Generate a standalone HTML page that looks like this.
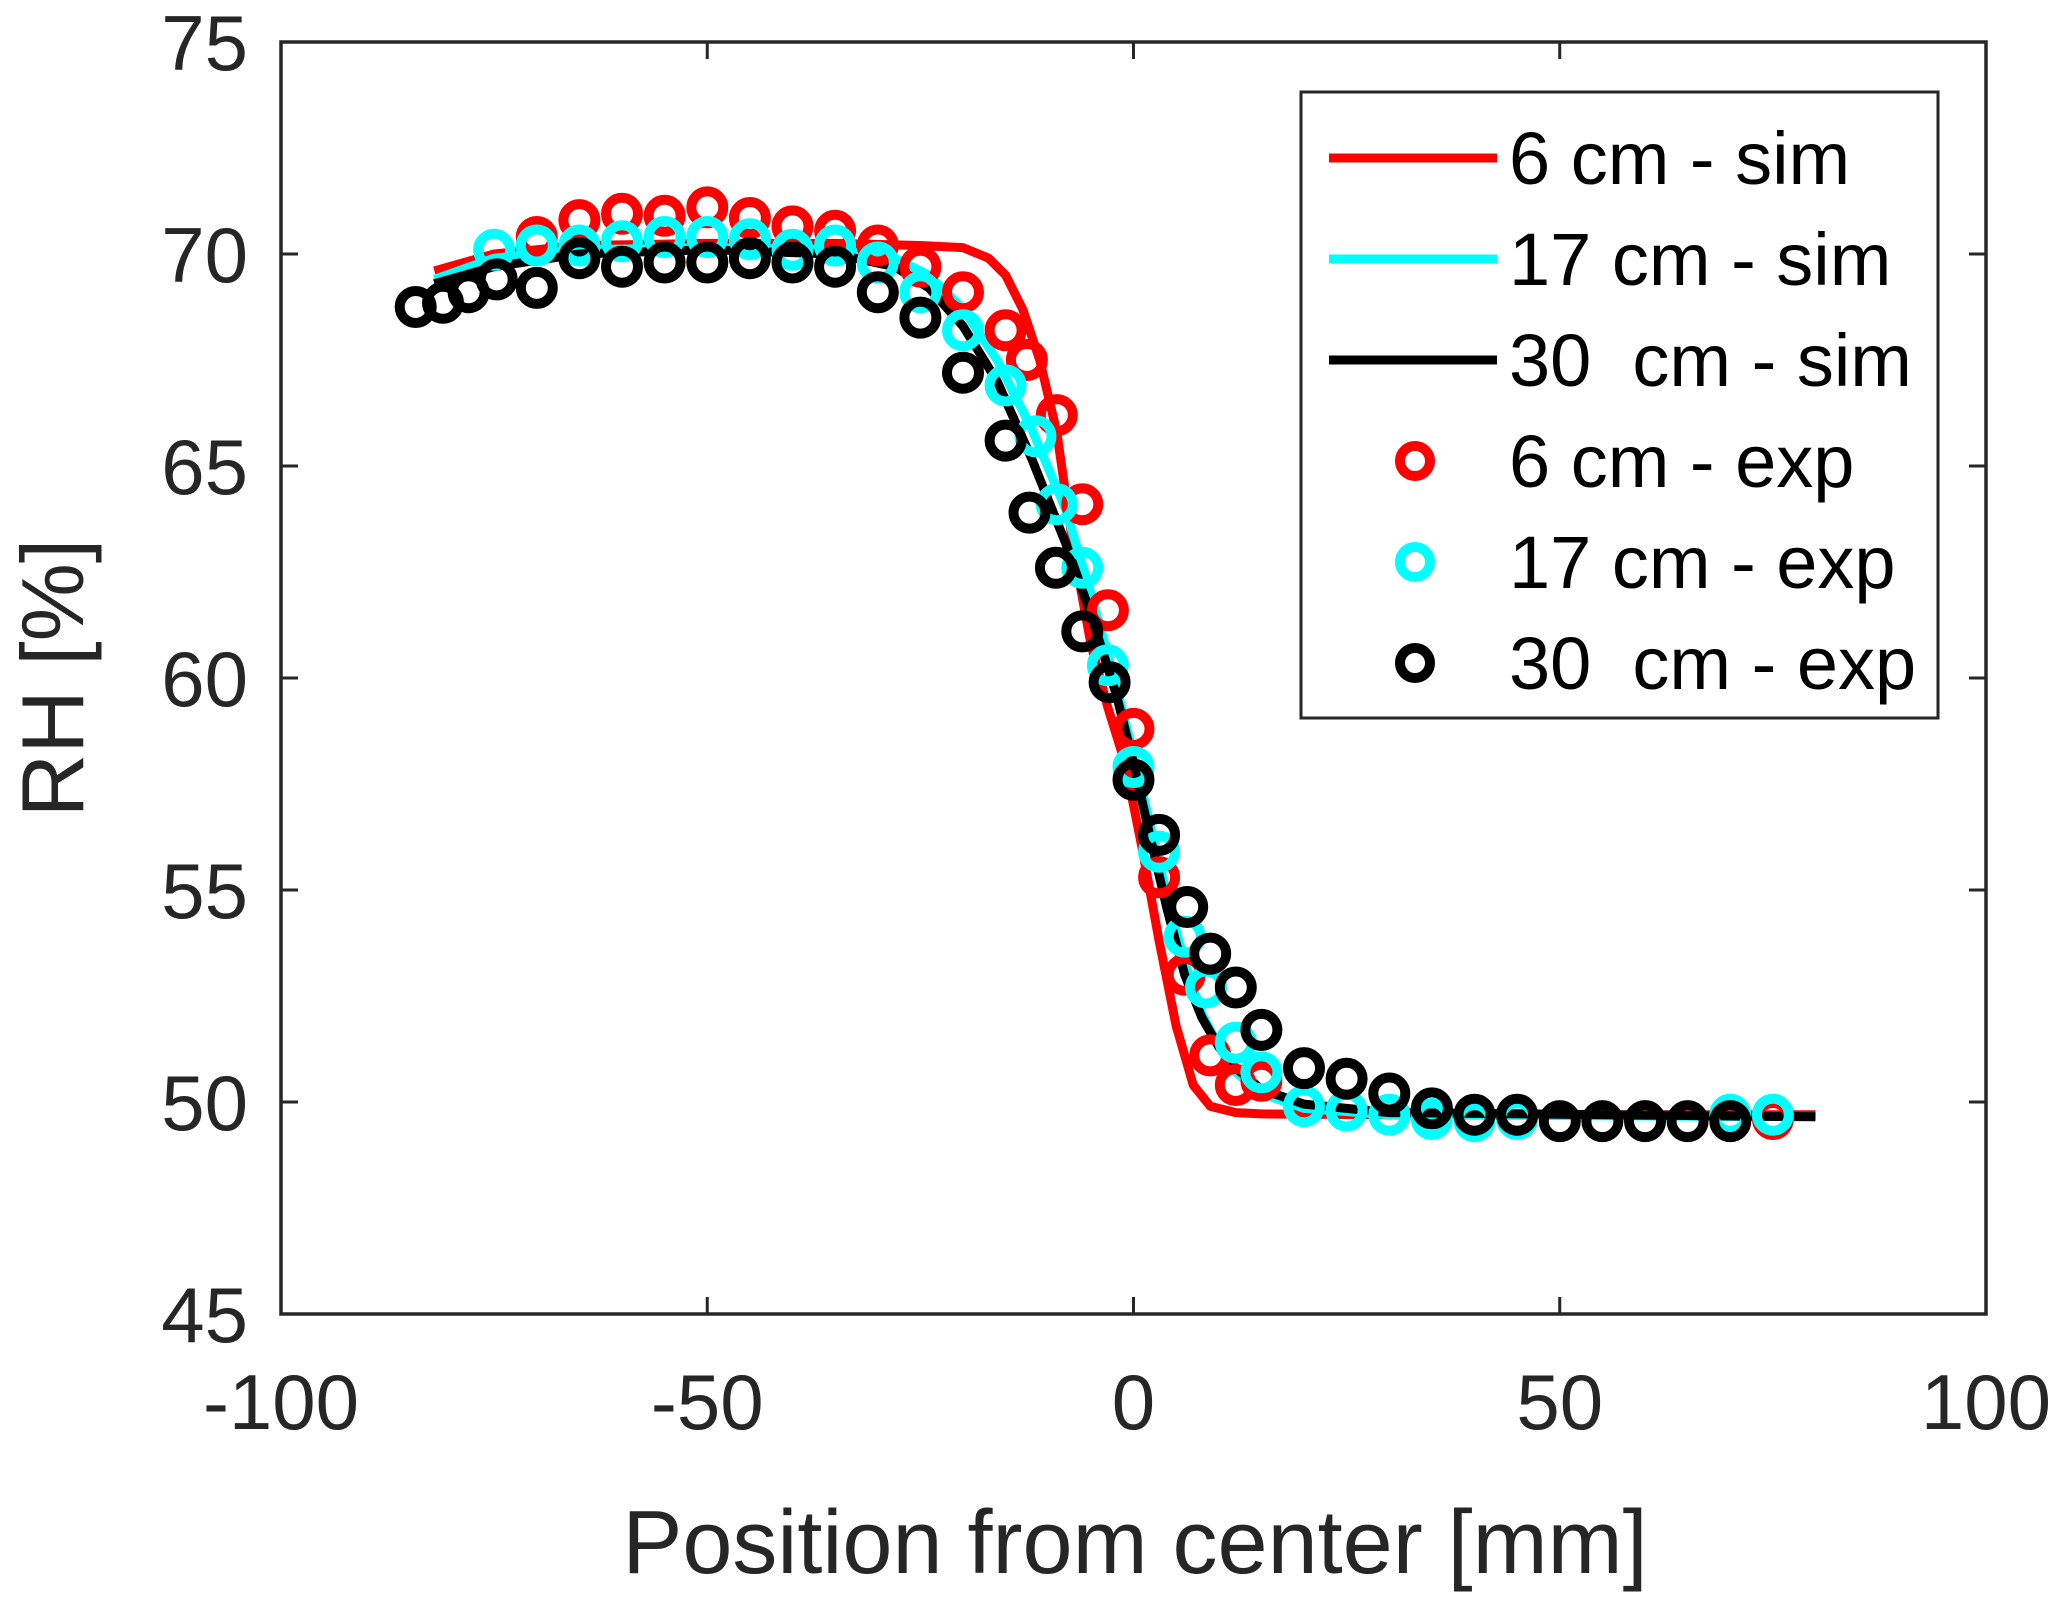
<!DOCTYPE html>
<html><head><meta charset="utf-8"><style>
html,body{margin:0;padding:0;background:#fff;}
svg{display:block;font-family:"Liberation Sans",Arial,sans-serif;}
</style></head><body>
<svg id="chart" width="2067" height="1610" viewBox="0 0 2067 1610" xmlns="http://www.w3.org/2000/svg">
<rect x="0" y="0" width="2067" height="1610" fill="#fff"/>
<g id="ticks"></g>
<g id="series"></g>
<rect x="281" y="42" width="1705" height="1272" fill="none" stroke="#262626" stroke-width="3.5"/>
<text x="1135" y="1573" font-size="90" text-anchor="middle" fill="#262626">Position from center [mm]</text>
<text transform="translate(83,678) rotate(-90)" font-size="88" text-anchor="middle" fill="#262626">RH [%]</text>
<g>
<rect x="1301" y="92" width="637" height="626" fill="#fff" stroke="#262626" stroke-width="3"/>
<line x1="1329" y1="158" x2="1497" y2="158" stroke="#ff0000" stroke-width="9"/>
<text x="1509" y="184" font-size="74" fill="#000">6 cm - sim</text>
<line x1="1329" y1="259" x2="1497" y2="259" stroke="#00ffff" stroke-width="9"/>
<text x="1509" y="285" font-size="74" fill="#000">17 cm - sim</text>
<line x1="1329" y1="360" x2="1497" y2="360" stroke="#000" stroke-width="9"/>
<text x="1509" y="386" font-size="74" fill="#000" xml:space="preserve">30  cm - sim</text>
<circle cx="1415" cy="461" r="15" fill="none" stroke="#ff0000" stroke-width="10"/>
<text x="1509" y="487" font-size="74" fill="#000">6 cm - exp</text>
<circle cx="1415" cy="562" r="15" fill="none" stroke="#00ffff" stroke-width="10"/>
<text x="1509" y="588" font-size="74" fill="#000">17 cm - exp</text>
<circle cx="1415" cy="663" r="15" fill="none" stroke="#000" stroke-width="10"/>
<text x="1509" y="689" font-size="74" fill="#000" xml:space="preserve">30  cm - exp</text>
</g>
</svg>
<script>
const xTicks = [-100, -50, 0, 50, 100];
const yTicks = [45, 50, 55, 60, 65, 70, 75];
const sim6X  = [-82,-75,-65,-50,-35,-25,-20,-17,-15,-13,-11,-9,-7,-5,-3,-1,1,3,5,7,9,12,15,30,80];
const sim6Y  = [69.6,70.0,70.2,70.25,70.25,70.2,70.15,69.9,69.5,68.7,67.5,65.8,63.0,60.8,59.3,58.0,56.0,53.8,51.8,50.4,49.9,49.75,49.72,49.7,49.7];
const sim17X = [-82,-75,-65,-50,-35,-28,-24,-20,-16,-12,-8,-5,-2,0,2,4,6,8,10,12,15,20,30,80];
const sim17Y = [69.4,69.9,70.1,70.15,70.1,69.9,69.5,68.7,67.5,65.9,64.0,62.0,59.8,58.2,56.5,54.8,53.3,52.1,51.3,50.7,50.2,49.85,49.7,49.65];
const sim30X = [-82,-75,-65,-50,-35,-28,-24,-20,-16,-12,-8,-5,-2,0,2,4,6,8,10,12,15,20,30,80];
const sim30Y = [69.3,69.7,70.0,70.1,70.0,69.7,69.2,68.3,67.0,65.2,63.2,61.5,59.6,58.0,56.2,54.5,53.0,52.0,51.3,50.8,50.3,49.95,49.75,49.65];
const exp6X  = [-70,-65,-60,-55,-50,-45,-40,-35,-30,-25,-20,-15,-12.5,-9,-6,-3,0,3,6,9,12,15,75];
const exp6Y  = [70.4,70.8,70.95,70.9,71.1,70.85,70.65,70.55,70.2,69.7,69.1,68.2,67.5,66.2,64.1,61.6,58.8,55.3,53.0,51.1,50.4,50.5,49.6];
const exp17X = [-75,-70,-65,-60,-55,-50,-45,-40,-35,-30,-25,-20,-15,-11.5,-9,-6,-3,0,3,6,8.5,12,15,20,25,30,35,40,45,70,75];
const exp17Y = [70.1,70.2,70.2,70.3,70.4,70.4,70.35,70.1,70.2,69.8,69.1,68.2,66.9,65.7,64.1,62.6,60.3,57.9,55.9,53.9,52.7,51.4,50.7,49.9,49.8,49.7,49.6,49.55,49.6,49.7,49.7];
const exp30X = [-84.2,-81,-78,-74.7,-70,-65,-60,-55,-50,-45,-40,-35,-30,-25,-20,-15,-12.2,-9.1,-6,-2.8,0,3,6.3,9,12,15,20,25,30,35,40,45,50,55,60,65,70];
const exp30Y = [68.75,68.85,69.1,69.4,69.2,69.9,69.7,69.8,69.8,69.9,69.8,69.7,69.1,68.5,67.2,65.6,63.9,62.6,61.1,59.9,57.6,56.3,54.6,53.5,52.7,51.7,50.8,50.55,50.2,49.85,49.7,49.7,49.55,49.55,49.55,49.55,49.55];

const L = 281, R = 1986, T = 42, B = 1314;
const XMIN = -100, XMAX = 100, YMIN = 45, YMAX = 75;
function sx(v){ return L + (v - XMIN) / (XMAX - XMIN) * (R - L); }
function sy(v){ return B - (v - YMIN) / (YMAX - YMIN) * (B - T); }
const NS = "http://www.w3.org/2000/svg";
const tg = document.getElementById('ticks');
const sg = document.getElementById('series');
function mk(tag, attrs, parent){ const e = document.createElementNS(NS, tag); for (const k in attrs) e.setAttribute(k, attrs[k]); parent.appendChild(e); return e; }

xTicks.forEach(v => {
  const x = sx(v);
  const t1 = mk('line', {x1:x, y1:B, x2:x, y2:B-17, stroke:'#262626', 'stroke-width':3}, tg);
  
  
  const t2 = mk('line', {x1:x, y1:T, x2:x, y2:T+17, stroke:'#262626', 'stroke-width':3}, tg);
  
  
  const lb = mk('text', {x:x, y:1429, 'font-size':78, 'text-anchor':'middle', fill:'#262626'}, tg);
  lb.textContent = String(v);
  
  
});
yTicks.forEach(v => {
  const y = sy(v);
  const t1 = mk('line', {x1:L, y1:y, x2:L+17, y2:y, stroke:'#262626', 'stroke-width':3}, tg);
  
  
  const t2 = mk('line', {x1:R, y1:y, x2:R-17, y2:y, stroke:'#262626', 'stroke-width':3}, tg);
  
  
  const lb = mk('text', {x:248, y:y+28, 'font-size':78, 'text-anchor':'end', fill:'#262626'}, tg);
  lb.textContent = String(v);
  
  
});

function drawLine(xs, ys, color, name){
  const d = xs.map((v,i) => (i ? 'L' : 'M') + sx(v).toFixed(1) + ',' + sy(ys[i]).toFixed(1)).join(' ');
  const p = mk('path', {d:d, fill:'none', stroke:color, 'stroke-width':9, 'stroke-linejoin':'round'}, sg);
  
  
}
function drawPts(xs, ys, color, name){
  xs.forEach((v,i) => {
    const c = mk('circle', {cx:sx(v).toFixed(1), cy:sy(ys[i]).toFixed(1), r:16, fill:'none', stroke:color, 'stroke-width':10}, sg);
    
    
  });
}
drawLine(sim6X, sim6Y, '#ff0000', 'line-6cm-sim');
drawLine(sim17X, sim17Y, '#00ffff', 'line-17cm-sim');
drawLine(sim30X, sim30Y, '#000000', 'line-30cm-sim');
drawPts(exp6X, exp6Y, '#ff0000', 'point-6cm-exp');
drawPts(exp17X, exp17Y, '#00ffff', 'point-17cm-exp');
drawPts(exp30X, exp30Y, '#000000', 'point-30cm-exp');
</script>
</body></html>
